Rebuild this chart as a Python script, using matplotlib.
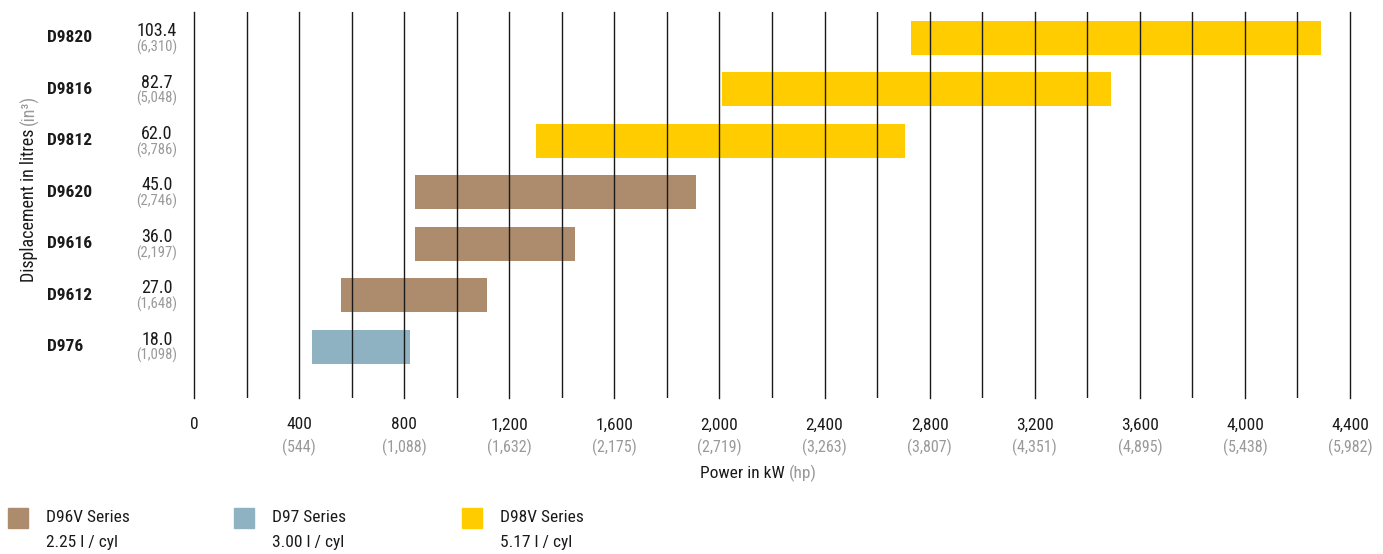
import matplotlib.pyplot as plt
import matplotlib.transforms as mtransforms
import numpy as np

plt.rcParams['font.family'] = ['Roboto Condensed', 'Liberation Sans Narrow', 'Roboto', 'DejaVu Sans']
plt.rcParams['font.stretch'] = 'condensed'

# === DATA ===
models = ["D9820", "D9816", "D9812", "D9620", "D9616", "D9612", "D976"]
litres = ["103.4", "82.7", "62.0", "45.0", "36.0", "27.0", "18.0"]
cubic_in = ["(6,310)", "(5,048)", "(3,786)", "(2,746)", "(2,197)", "(1,648)", "(1,098)"]
kw_min = [2730, 2010, 1300, 840, 840, 560, 450]
kw_max = [4290, 3490, 2705, 1910, 1450, 1115, 822]
series = ["D98V", "D98V", "D98V", "D96V", "D96V", "D96V", "D97"]

kw_ticks = [0, 400, 800, 1200, 1600, 2000, 2400, 2800, 3200, 3600, 4000, 4400]
kw_labels = ["0", "400", "800", "1,200", "1,600", "2,000", "2,400", "2,800",
             "3,200", "3,600", "4,000", "4,400"]
hp_labels = ["", "(544)", "(1,088)", "(1,632)", "(2,175)", "(2,719)", "(3,263)",
             "(3,807)", "(4,351)", "(4,895)", "(5,438)", "(5,982)"]

legend_names = ["D96V Series", "D97 Series", "D98V Series"]
legend_sub = ["2.25 l / cyl", "3.00 l / cyl", "5.17 l / cyl"]
colors = {"D96V": "#AD8C6E", "D97": "#8FB2C3", "D98V": "#FFCC00"}

GREY = "#999999"
DARK = "#1a1a1a"

# === FIGURE ===
fig = plt.figure(figsize=(13.83, 5.54), dpi=100)
ax = fig.add_axes([194 / 1383, 1 - 398 / 554, (1350 - 194) / 1383, (398 - 12) / 554])

y = np.arange(len(models))
widths = np.array(kw_max) - np.array(kw_min)
ax.barh(y, widths, left=kw_min, height=0.66,
        color=[colors[s] for s in series], zorder=1)

ax.set_xlim(0, 4400)
ax.set_ylim(7, -0.5)

# vertical grid lines every 200 kW, drawn over the bars
ax.set_xticks(kw_ticks)
ax.set_xticks(np.arange(200, 4400, 400), minor=True)
ax.set_axisbelow(False)
ax.grid(True, axis='x', which='both', color=DARK, linewidth=1.0, zorder=3)
for ln in ax.get_xgridlines():
    ln.set_clip_on(False)
ax.tick_params(axis='both', which='both', length=0)
ax.set_xticklabels(kw_labels, fontsize=12.5, color=DARK)
ax.tick_params(axis='x', pad=14)
ax.set_yticks([])
for s in ax.spines.values():
    s.set_visible(False)

# hp labels under the kW labels
trans = mtransforms.blended_transform_factory(ax.transData, ax.transAxes)
for k, h in zip(kw_ticks, hp_labels):
    ax.text(k, -0.128, h, transform=trans, ha='center', va='center',
            fontsize=11.5, color=GREY)

# x-axis title
fig.text(789 / 1383, 1 - 473 / 554, "Power in kW ", ha='right', va='center',
         fontsize=12.5, color=DARK)
fig.text(789 / 1383, 1 - 473 / 554, "(hp)", ha='left', va='center',
         fontsize=12.5, color=GREY)

# model names and displacement labels
ytrans = mtransforms.blended_transform_factory(fig.transFigure, ax.transData)
for i in range(len(models)):
    ax.text(47 / 1383, i, models[i], transform=ytrans, ha='left', va='center',
            fontsize=12.5, fontweight='bold', color=DARK)
    ax.text(157 / 1383, i - 0.13, litres[i], transform=ytrans, ha='center',
            va='center', fontsize=13, color=DARK)
    ax.text(157 / 1383, i + 0.18, cubic_in[i], transform=ytrans, ha='center',
            va='center', fontsize=10.5, color=GREY)

# y-axis title
fig.text(29 / 1383, 1 - 125 / 554, "Displacement in litres ", rotation=90,
         ha='center', va='top', fontsize=13, color=DARK)
fig.text(29 / 1383, 1 - 125 / 554, "(in³)", rotation=90,
         ha='center', va='bottom', fontsize=13, color=GREY)

# legend
leg_x = [8, 234, 462]
for x0, key, name, sub in zip(leg_x, ["D96V", "D97", "D98V"], legend_names, legend_sub):
    fig.patches.append(plt.Rectangle((x0 / 1383, 1 - 528 / 554), 20 / 1383, 20 / 554,
                                     transform=fig.transFigure, color=colors[key]))
    fig.text((x0 + 38) / 1383, 1 - 518 / 554, name, ha='left', va='center',
             fontsize=12.5, color=DARK)
    fig.text((x0 + 38) / 1383, 1 - 542 / 554, sub, ha='left', va='center',
             fontsize=12.5, color=DARK)

fig.savefig("out.png", dpi=100)
